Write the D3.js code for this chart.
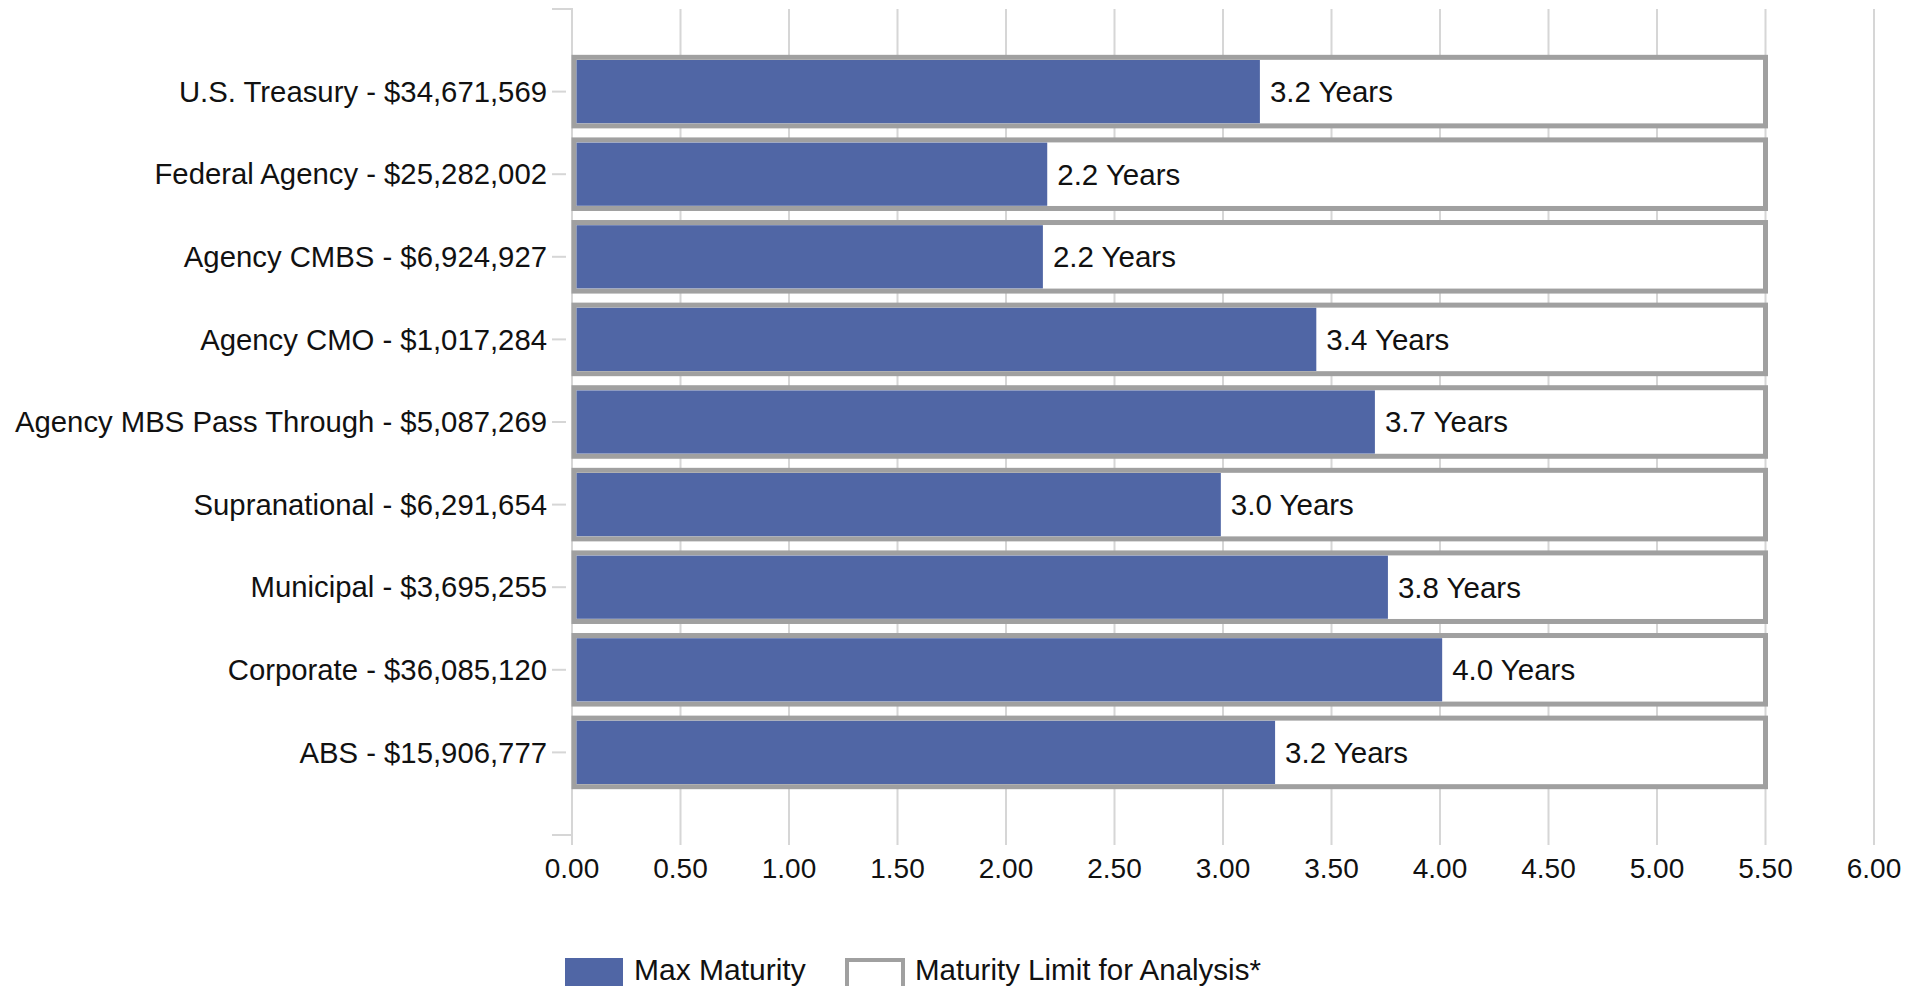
<!DOCTYPE html>
<html>
<head>
<meta charset="utf-8">
<script src="https://cdn.jsdelivr.net/npm/d3@7"></script>
<style>
  body { margin: 0; background: #fff; }
  svg text { font-family: "Liberation Sans", Arial, sans-serif; fill: #111; }
</style>
</head>
<body>
<svg width="1921" height="986"></svg>
<script>
const categories = [
  "U.S. Treasury - $34,671,569",
  "Federal Agency - $25,282,002",
  "Agency CMBS - $6,924,927",
  "Agency CMO - $1,017,284",
  "Agency MBS Pass Through - $5,087,269",
  "Supranational - $6,291,654",
  "Municipal - $3,695,255",
  "Corporate - $36,085,120",
  "ABS - $15,906,777"
];
const maxMaturity = [3.17, 2.19, 2.17, 3.43, 3.70, 2.99, 3.76, 4.01, 3.24];
const maturityLimit = [5.5, 5.5, 5.5, 5.5, 5.5, 5.5, 5.5, 5.5, 5.5];
const xTicks = [0, 0.5, 1, 1.5, 2, 2.5, 3, 3.5, 4, 4.5, 5, 5.5, 6];
const legendLabels = ["Max Maturity", "Maturity Limit for Analysis*"];

const blue = "#5066a5";
const outline = "#a0a0a0";
const gridColor = "#d6d6d6";

window.onload = () => {
  const svg = d3.select("svg");
  const margin = { top: 9, left: 572, bottom: 151 };
  const plotBottom = 986 - margin.bottom;

  const data = categories.map((c, i) => ({ cat: c, value: maxMaturity[i], limit: maturityLimit[i] }));

  const x = d3.scaleLinear()
    .domain([0, 6])
    .range([margin.left, 1874]);

  const y = d3.scalePoint()
    .domain(categories)
    .range([margin.top, plotBottom])
    .padding(1);

  const step = y.step();

  // vertical grid + x ticks
  const xAxis = svg.append("g").attr("class", "xAxis");
  xAxis.selectAll("line")
    .data(xTicks)
    .enter().append("line")
      .attr("x1", d => x(d)).attr("x2", d => x(d))
      .attr("y1", margin.top).attr("y2", plotBottom + 10)
      .attr("stroke", gridColor)
      .attr("stroke-width", 2);
  xAxis.selectAll("text")
    .data(xTicks)
    .enter().append("text")
      .attr("x", d => x(d))
      .attr("y", plotBottom + 43)
      .attr("text-anchor", "middle")
      .attr("font-size", 28)
      .text(d => d.toFixed(2));

  // y axis
  const yAxis = svg.append("g").attr("class", "yAxis");
  yAxis.append("path")
    .attr("d", `M${margin.left - 20},${margin.top}H${margin.left}V${plotBottom + 10}M${margin.left - 20},${plotBottom}H${margin.left}`)
    .attr("fill", "none")
    .attr("stroke", gridColor)
    .attr("stroke-width", 2);

  const yTick = yAxis.selectAll("g")
    .data(categories)
    .enter().append("g")
      .attr("transform", d => `translate(0, ${y(d)})`);
  yTick.append("line")
    .attr("x1", margin.left - 20).attr("x2", margin.left - 6)
    .attr("stroke", gridColor)
    .attr("stroke-width", 2);
  yTick.append("text")
    .attr("x", margin.left - 25)
    .attr("dy", "0.35em")
    .attr("text-anchor", "end")
    .attr("font-size", 29.3)
    .text(d => d);

  // bars
  const bars = svg.append("g").attr("class", "bars")
    .selectAll("g")
    .data(data)
    .enter().append("g")
      .attr("transform", d => `translate(0, ${y(d.cat)})`);

  const boxH = step * 0.83;
  bars.append("rect")
    .attr("x", x(0) + 2)
    .attr("y", -boxH / 2)
    .attr("width", d => x(d.limit) - x(0) - 2)
    .attr("height", boxH)
    .attr("fill", "#fff")
    .attr("stroke", outline)
    .attr("stroke-width", 5);

  const barH = step * 0.765;
  bars.append("rect")
    .attr("x", x(0) + 4.5)
    .attr("y", -barH / 2)
    .attr("width", d => x(d.value) - x(0) - 4.5)
    .attr("height", barH)
    .attr("fill", blue);

  bars.append("text")
    .attr("x", d => x(d.value) + 10)
    .attr("dy", "0.35em")
    .attr("font-size", 29.5)
    .text(d => `${d.value.toFixed(1)} Years`);

  // legend
  const legend = svg.append("g").attr("class", "legend");
  legend.append("rect")
    .attr("x", 565).attr("y", 958)
    .attr("width", 58).attr("height", 40)
    .attr("fill", blue);
  legend.append("text")
    .attr("x", 634).attr("y", 980)
    .attr("font-size", 30)
    .text(legendLabels[0]);
  legend.append("rect")
    .attr("x", 847).attr("y", 960)
    .attr("width", 56).attr("height", 40)
    .attr("fill", "#fff")
    .attr("stroke", outline)
    .attr("stroke-width", 4);
  legend.append("text")
    .attr("x", 915).attr("y", 980)
    .attr("font-size", 29.5)
    .text(legendLabels[1]);
};
</script>
</body>
</html>
